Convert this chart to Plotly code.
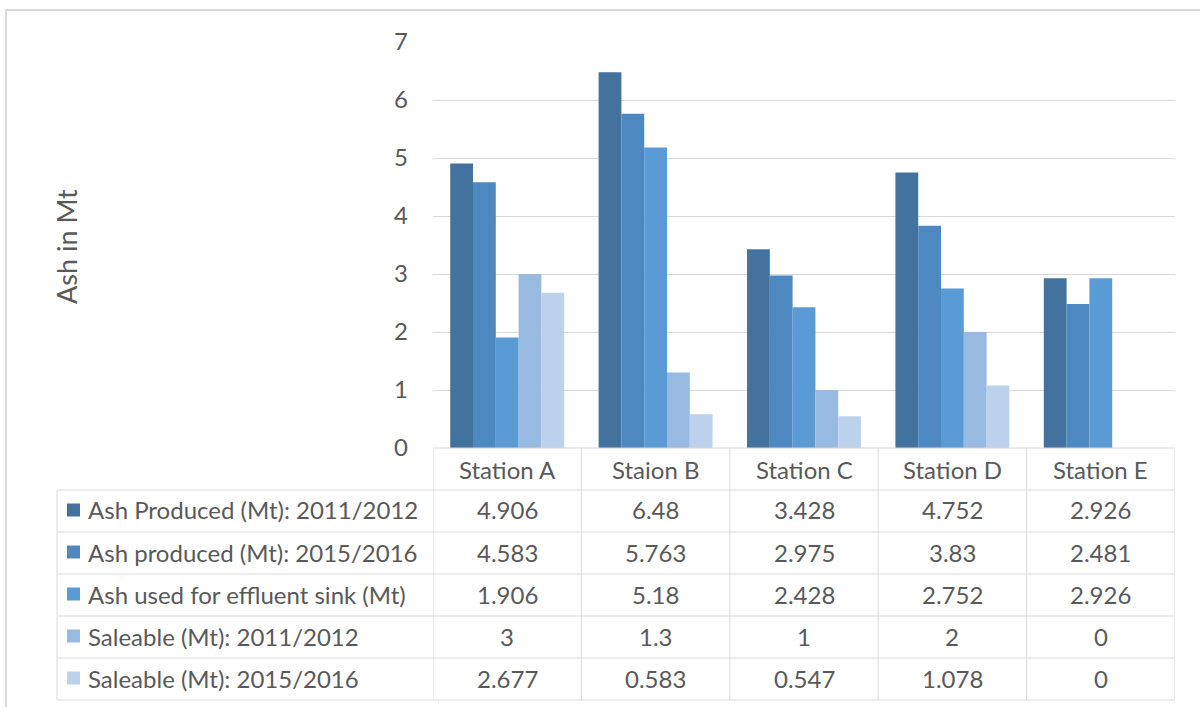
import plotly.graph_objects as go

stations = ["Station A", "Staion B", "Station C", "Station D", "Station E"]
series_names = [
    "Ash Produced (Mt): 2011/2012",
    "Ash produced (Mt): 2015/2016",
    "Ash used for effluent sink (Mt)",
    "Saleable (Mt): 2011/2012",
    "Saleable (Mt): 2015/2016",
]
ash_produced_2011 = [4.906, 6.48, 3.428, 4.752, 2.926]
ash_produced_2015 = [4.583, 5.763, 2.975, 3.83, 2.481]
ash_effluent_sink = [1.906, 5.18, 2.428, 2.752, 2.926]
saleable_2011 = [3, 1.3, 1, 2, 0]
saleable_2015 = [2.677, 0.583, 0.547, 1.078, 0]
y_ticks = [0, 1, 2, 3, 4, 5, 6, 7]

series_values = [ash_produced_2011, ash_produced_2015, ash_effluent_sink,
                 saleable_2011, saleable_2015]
colors = ["#43729e", "#4e88c0", "#5a9ad5", "#98b9e0", "#bcd1eb"]

W, H = 1200, 707
PL, PR, PT, PB = 433, 1175, 42, 448   # plot area in pixels
TEXT = "#595959"
GRID = "#d9d9d9"
FONT = "Lato"
FS = 24


def px_x(x):
    return (x - PL) / (PR - PL)


def px_y(y):
    return (PB - y) / (PB - PT)


fig = go.Figure()
for name, vals, col in zip(series_names, series_values, colors):
    fig.add_trace(go.Bar(x=stations, y=vals, name=name, marker_color=col,
                         marker_line_width=0))

shapes = []
annotations = []

# chart frame
shapes.append(dict(type="rect", xref="paper", yref="paper",
                   x0=px_x(6), x1=px_x(1215), y0=px_y(722), y1=px_y(10),
                   line=dict(color=GRID, width=2), fillcolor="rgba(0,0,0,0)"))

# data table: row boundaries
row_edges = [448, 490, 532, 574, 616, 658, 700]
for i, ry in enumerate(row_edges):
    x_start = px_x(PL) if i == 0 else px_x(57)
    shapes.append(dict(type="line", xref="paper", yref="paper",
                       x0=x_start, x1=px_x(PR), y0=px_y(ry), y1=px_y(ry),
                       line=dict(color=GRID, width=1)))
# column boundaries follow the category axis
for k in range(len(stations) + 1):
    shapes.append(dict(type="line", xref="x", yref="paper",
                       x0=k - 0.5, x1=k - 0.5, y0=px_y(448), y1=px_y(700),
                       line=dict(color=GRID, width=1)))
shapes.append(dict(type="line", xref="paper", yref="paper",
                   x0=px_x(57), x1=px_x(57), y0=px_y(490), y1=px_y(700),
                   line=dict(color=GRID, width=1)))

# header row: station names
for k, st in enumerate(stations):
    annotations.append(dict(x=k, xref="x", y=px_y(469), yref="paper",
                            text=st, showarrow=False,
                            font=dict(size=FS, color=TEXT, family=FONT),
                            xanchor="center", yanchor="middle"))

# series rows: legend key, name and values
for r, (name, vals, col) in enumerate(zip(series_names, series_values, colors)):
    cy = 510 + 42 * r
    shapes.append(dict(type="rect", xref="paper", yref="paper",
                       x0=px_x(67), x1=px_x(80), y0=px_y(cy + 6.5), y1=px_y(cy - 6.5),
                       line=dict(width=0), fillcolor=col))
    annotations.append(dict(x=px_x(86), xref="paper", y=px_y(cy), yref="paper",
                            text=name, showarrow=False,
                            font=dict(size=FS, color=TEXT, family=FONT),
                            xanchor="left", yanchor="middle"))
    for k, v in enumerate(vals):
        annotations.append(dict(x=k, xref="x", y=px_y(cy), yref="paper",
                                text=f"{v:g}", showarrow=False,
                                font=dict(size=FS, color=TEXT, family=FONT),
                                xanchor="center", yanchor="middle"))

# y-axis title
annotations.append(dict(x=px_x(66), xref="paper", y=px_y(247), yref="paper",
                        text="Ash in Mt", textangle=-90, showarrow=False,
                        font=dict(size=27, color=TEXT, family=FONT),
                        xanchor="center", yanchor="middle"))

fig.update_layout(
    width=W, height=H,
    margin=dict(l=PL, r=W - PR, t=PT, b=H - PB, pad=0),
    paper_bgcolor="white", plot_bgcolor="white",
    barmode="group", bargap=0.232, bargroupgap=0,
    showlegend=False,
    font=dict(family=FONT, color=TEXT, size=FS),
    xaxis=dict(range=[-0.5, 4.5], showticklabels=False, showgrid=False,
               zeroline=False, showline=False, ticks=""),
    yaxis=dict(range=[0, 7], tickvals=y_ticks, showgrid=True, gridcolor=GRID,
               gridwidth=1, zeroline=False, showline=False, ticks="",
               ticklabelstandoff=24,
               tickfont=dict(size=FS, color=TEXT, family=FONT)),
    shapes=shapes, annotations=annotations,
)

fig.write_html("out.html")
